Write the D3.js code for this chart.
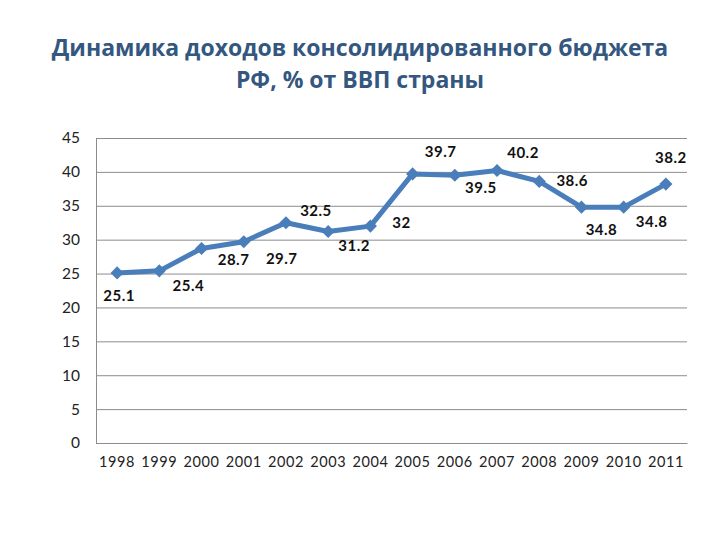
<!DOCTYPE html>
<html>
<head>
<meta charset="utf-8">
<script src="https://cdn.jsdelivr.net/npm/d3@7"></script>
<style>
  body { margin: 0; background: #fff; }
  svg { display: block; }
</style>
</head>
<body>
<svg id="chart"></svg>
<script>
// data
const years = ["1998", "1999", "2000", "2001", "2002", "2003", "2004",
  "2005", "2006", "2007", "2008", "2009", "2010", "2011"];
const revenue = [25.1, 25.4, 28.7, 29.7, 32.5, 31.2, 32, 39.7, 39.5, 40.2, 38.6, 34.8, 34.8, 38.2];
const yTicks = [0, 5, 10, 15, 20, 25, 30, 35, 40, 45];
const titleLines = ["Динамика доходов консолидированного бюджета", "РФ, % от ВВП страны"];

// where each value label sits relative to its point (dx, dy)
const labelShift = [[2, 23], [29, 15], [32, 11], [38, 17], [30, -12], [26, 14], [31, -3],
  [28, -22], [26, 12], [26, -18], [33, -1], [20, 23], [28, 15], [5, -26]];

const width = 720, height = 540;
const margin = { top: 138, right: 33, bottom: 97, left: 96 };

const svg = d3.select("#chart").attr("width", width).attr("height", height);

/**
 * Title
 */
svg.append("g")
  .selectAll("text")
  .data(titleLines)
  .enter()
  .append("text")
  .attr("x", width / 2)
  .attr("y", (d, i) => 56 + i * 32)
  .attr("text-anchor", "middle")
  .style("font-family", "'Open Sans', sans-serif")
  .style("font-weight", "bold")
  .style("font-size", "23px")
  .style("fill", "#34577f")
  .text(d => d);

/**
 * Scales
 */
const x = d3.scaleBand()
  .domain(years)
  .range([margin.left, width - margin.right]);

const y = d3.scaleLinear()
  .domain([0, 45])
  .range([height - margin.bottom, margin.top]);

/**
 * Gridlines + axes
 */
const yAxis = d3.axisLeft(y)
  .tickValues(yTicks)
  .tickSize(-(width - margin.left - margin.right))
  .tickPadding(16);

const gy = svg.append("g")
  .attr("transform", `translate(${margin.left},0)`)
  .call(yAxis);
gy.select(".domain").attr("stroke", "#8c8c8c");
gy.selectAll(".tick line").attr("stroke", "#8c8c8c");
gy.selectAll(".tick text")
  .style("font-family", "Lato, sans-serif")
  .style("font-size", "15.5px")
  .style("fill", "#222");

const xAxis = d3.axisBottom(x).tickSize(0).tickPadding(14);
const gx = svg.append("g")
  .attr("transform", `translate(0,${height - margin.bottom})`)
  .call(xAxis);
gx.select(".domain").attr("stroke", "#8c8c8c");
gx.selectAll(".tick text")
  .style("font-family", "Lato, sans-serif")
  .style("font-size", "14.5px")
  .style("letter-spacing", "0.6px")
  .style("fill", "#222");

/**
 * Line + markers
 */
const cx = (d, i) => x(years[i]) + x.bandwidth() / 2;

const line = d3.line()
  .x(cx)
  .y(d => y(d));

svg.append("path")
  .datum(revenue)
  .attr("fill", "none")
  .attr("stroke", "#4a7ebb")
  .attr("stroke-width", 5)
  .attr("stroke-linejoin", "round")
  .attr("d", line);

svg.append("g")
  .selectAll("path")
  .data(revenue)
  .enter()
  .append("path")
  .attr("d", d3.symbol().type(d3.symbolDiamond2).size(110))
  .attr("transform", (d, i) => `translate(${cx(d, i)},${y(d)})`)
  .attr("fill", "#4a7ebb");

/**
 * Value labels
 */
svg.append("g")
  .selectAll("text")
  .data(revenue)
  .enter()
  .append("text")
  .attr("x", (d, i) => cx(d, i) + labelShift[i][0])
  .attr("y", (d, i) => y(d) + labelShift[i][1])
  .attr("dy", "0.35em")
  .attr("text-anchor", "middle")
  .style("font-family", "Lato, sans-serif")
  .style("font-weight", "bold")
  .style("font-size", "15px")
  .style("letter-spacing", "0.5px")
  .style("fill", "#111")
  .text(d => d);
</script>
</body>
</html>
